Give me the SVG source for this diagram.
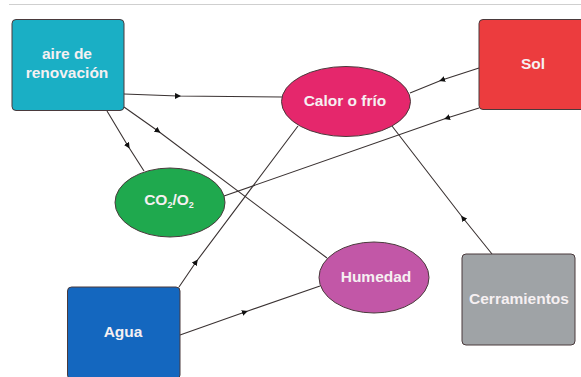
<svg xmlns="http://www.w3.org/2000/svg" width="581" height="377" viewBox="0 0 581 377">
<defs>
<style>
.node{stroke:#4a3a3c;stroke-width:1}
.lbl{font-family:"Liberation Sans",Arial,sans-serif;font-weight:bold;font-size:15.5px;fill:#F6F0F2;text-anchor:middle}
.con{fill:none;stroke:#3a3232;stroke-width:1.1;marker-mid:url(#arr)}
</style>
<marker id="arr" viewBox="0 0 6 6" refX="3" refY="3" markerWidth="6" markerHeight="6" markerUnits="userSpaceOnUse" orient="auto">
<path d="M0,0 L6,3 L0,6 z" fill="#111"/>
</marker>
</defs>
<rect width="581" height="377" fill="#ffffff"/>
<line x1="9" y1="4.5" x2="581" y2="4.5" stroke="#cfcfcf" stroke-width="1.2"/>
<g id="connectors">
<path class="con" d="M124,94 L178,96 L282,97"/>
<path class="con" d="M107,111 L128,146 L144,171"/>
<path class="con" d="M124,107 L158,131 L327,258"/>
<path class="con" d="M479,68 L442,80 L410,93"/>
<path class="con" d="M479,108 L447,118 L224,196"/>
<path class="con" d="M179,287 L196,262 L298,126"/>
<path class="con" d="M180,335 L245,312 L320,286"/>
<path class="con" d="M492,254 L463,218 L392,126"/>
</g>
<g id="aire">
<rect class="node" x="12" y="19.5" width="112" height="91" rx="4" fill="#1AAFC5"/>
<text class="lbl" x="67" y="58.5">aire de</text>
<text class="lbl" x="67" y="77.5">renovación</text>
</g>
<g id="calor">
<ellipse class="node" cx="346" cy="101.5" rx="64.5" ry="35" fill="#E5276C"/>
<text class="lbl" x="345" y="106">Calor o frío</text>
</g>
<g id="sol">
<rect class="node" x="479" y="19.5" width="110" height="90" rx="4" fill="#EC3C3E"/>
<text class="lbl" x="533" y="69">Sol</text>
</g>
<g id="co2">
<ellipse class="node" cx="170" cy="202.5" rx="55" ry="34.5" fill="#1FA94E"/>
<text class="lbl" x="169" y="205" font-size="15px">CO<tspan font-size="9px" dy="3">2</tspan><tspan dy="-3">/O</tspan><tspan font-size="9px" dy="3">2</tspan></text>
</g>
<g id="humedad">
<ellipse class="node" cx="374" cy="277.5" rx="55" ry="35.5" fill="#C257A7"/>
<text class="lbl" x="376" y="282">Humedad</text>
</g>
<g id="agua">
<rect class="node" x="67.5" y="287" width="112.5" height="92" rx="4" fill="#1467BF"/>
<text class="lbl" x="123" y="337">Agua</text>
</g>
<g id="cerramientos">
<rect class="node" x="462" y="254" width="113" height="91" rx="4" fill="#9FA3A6"/>
<text class="lbl" x="519" y="304">Cerramientos</text>
</g>
</svg>
